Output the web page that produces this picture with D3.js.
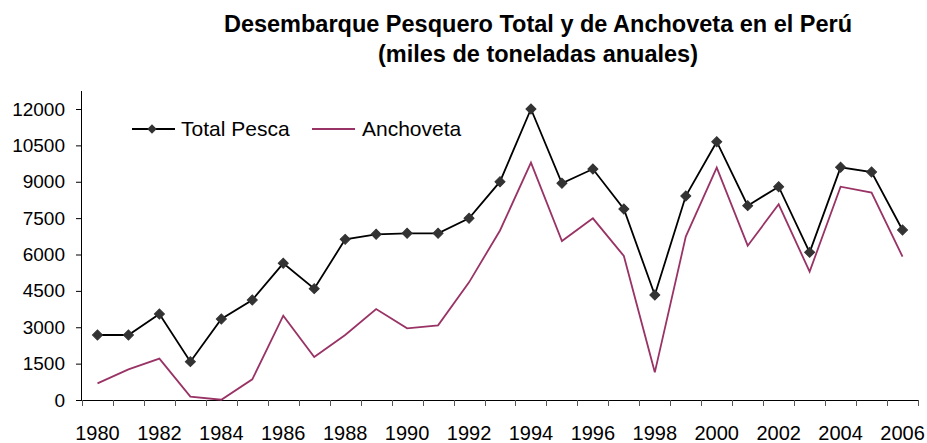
<!DOCTYPE html>
<html>
<head>
<meta charset="utf-8">
<script src="https://cdn.jsdelivr.net/npm/d3@7/dist/d3.min.js"></script>
<style>
  html, body { margin: 0; padding: 0; background: #fff; }
  svg { display: block; font-family: "Liberation Sans", Arial, sans-serif; }
</style>
</head>
<body>
<svg id="chart" width="927" height="443"></svg>
<script>
const years = [1980,1981,1982,1983,1984,1985,1986,1987,1988,1989,1990,1991,1992,1993,1994,1995,1996,1997,1998,1999,2000,2001,2002,2003,2004,2005,2006];
const totalPesca = [2680,2680,3546,1581,3340,4124,5636,4591,6625,6832,6873,6873,7492,9003,12000,8935,9526,7876,4330,8412,10652,8014,8797,6089,9595,9402,7010];
const anchoveta = [687,1265,1704,137,10,852,3478,1773,2680,3753,2955,3079,4852,6990,9787,6557,7492,5938,1141,6736,9581,6364,8069,5292,8797,8550,5911];
const yTicks = [0,1500,3000,4500,6000,7500,9000,10500,12000];
const xLabelYears = years.filter(y => (y - 1980) % 2 === 0);
const seriesNames = ["Total Pesca", "Anchoveta"];
const titleLines = ["Desembarque Pesquero Total y de Anchoveta en el Perú", "(miles de toneladas anuales)"];

const svg = d3.select("#chart");
const mLeft = 82, mRight = 918, mTop = 109, mBottom = 400;

const x = d3.scaleBand().domain(years).range([mLeft, mRight]);
const y = d3.scaleLinear().domain([0, 12000]).range([mBottom, mTop]);
const cx = d => x(d) + x.bandwidth() / 2;

// Title
svg.append("g").selectAll("text").data(titleLines).join("text")
  .attr("x", 538).attr("y", (d, i) => 32 + i * 30)
  .attr("text-anchor", "middle")
  .attr("font-size", 23.5).attr("font-weight", "bold").attr("fill", "#000")
  .text(d => d);

// Y axis
const yAxis = d3.axisLeft(y).tickValues(yTicks).tickSize(6).tickPadding(11).tickFormat(d3.format("d"));
const gy = svg.append("g").attr("transform", `translate(${mLeft},0)`).call(yAxis);
gy.select(".domain").attr("stroke", "#000").attr("d", `M-0.5,${mBottom}V${mTop - 18}`);
gy.selectAll(".tick line").attr("stroke", "#000");
gy.selectAll(".tick text").attr("font-size", 19).attr("fill", "#000").attr("font-family", "Liberation Sans, Arial, sans-serif");

// X axis: ticks between categories
const boundaries = years.map(d => x(d)).concat([mRight]);
const gx = svg.append("g");
gx.append("line").attr("x1", mLeft).attr("x2", mRight).attr("y1", mBottom + 0.5).attr("y2", mBottom + 0.5).attr("stroke", "#000");
gx.selectAll("line.tk").data(boundaries).join("line").attr("class", "tk")
  .attr("x1", d => Math.round(d) + 0.5).attr("x2", d => Math.round(d) + 0.5)
  .attr("y1", mBottom).attr("y2", mBottom + 6).attr("stroke", "#555");
gx.selectAll("text").data(xLabelYears).join("text")
  .attr("x", d => cx(d)).attr("y", 440)
  .attr("text-anchor", "middle").attr("font-size", 20).attr("fill", "#000")
  .text(d => d);

// Lines
const lineGen = d3.line().x((d, i) => cx(years[i])).y(d => y(d));
svg.append("path").datum(anchoveta).attr("d", lineGen)
  .attr("fill", "none").attr("stroke", "#993366").attr("stroke-width", 1.8);
svg.append("path").datum(totalPesca).attr("d", lineGen)
  .attr("fill", "none").attr("stroke", "#000").attr("stroke-width", 1.8);

svg.append("g").selectAll("path").data(totalPesca).join("path")
  .attr("d", d3.symbol().type(d3.symbolSquare).size(50))
  .attr("transform", (d, i) => `translate(${cx(years[i])},${y(d)}) rotate(45)`)
  .attr("fill", "#333").attr("stroke", "#333");

// Legend
const lg = svg.append("g");
lg.append("line").attr("x1", 132).attr("x2", 175).attr("y1", 129).attr("y2", 129).attr("stroke", "#000").attr("stroke-width", 1.8);
lg.append("path").attr("d", d3.symbol().type(d3.symbolSquare).size(32)).attr("transform", "translate(152,129) rotate(45)").attr("fill", "#333").attr("stroke", "#333");
lg.append("text").attr("x", 181).attr("y", 136).attr("font-size", 21).attr("fill", "#000").text(seriesNames[0]);
lg.append("line").attr("x1", 312).attr("x2", 355).attr("y1", 129).attr("y2", 129).attr("stroke", "#993366").attr("stroke-width", 1.8);
lg.append("text").attr("x", 362).attr("y", 136).attr("font-size", 21).attr("fill", "#000").text(seriesNames[1]);
</script>
</body>
</html>
